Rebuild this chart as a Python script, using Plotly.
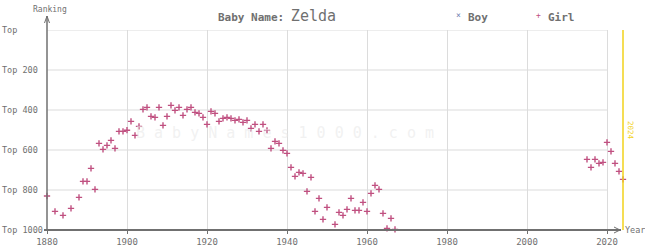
import plotly.graph_objects as go

# ---- data ----
girl_years = [1880, 1882, 1884, 1886, 1888, 1889, 1890, 1891, 1892, 1893, 1894, 1895,
              1896, 1897, 1898, 1899, 1900, 1901, 1902, 1903, 1904, 1905, 1906, 1907,
              1908, 1909, 1910, 1911, 1912, 1913, 1914, 1915, 1916, 1917, 1918, 1919,
              1920, 1921, 1922, 1923, 1924, 1925, 1926, 1927, 1928, 1929, 1930, 1931,
              1932, 1933, 1934, 1935, 1936, 1937, 1938, 1939, 1940, 1941, 1942, 1943,
              1944, 1945, 1946, 1947, 1948, 1949, 1950, 1952, 1953, 1954, 1955, 1956,
              1957, 1958, 1959, 1960, 1961, 1962, 1963, 1964, 1965, 1966, 1967,
              2015, 2016, 2017, 2018, 2019, 2020, 2021, 2022, 2023, 2024]
girl_ranks = [830, 907, 927, 892, 837, 757, 757, 692, 797, 567, 597, 577,
              552, 592, 507, 507, 501, 457, 527, 482, 397, 387, 432, 437,
              387, 477, 432, 377, 402, 387, 427, 397, 387, 412, 417, 437,
              472, 407, 417, 457, 442, 437, 442, 452, 447, 462, 452, 492,
              472, 507, 472, 502, 592, 557, 567, 602, 617, 687, 732, 712,
              717, 807, 737, 907, 842, 947, 887, 972, 912, 927, 897, 842,
              902, 902, 862, 907, 817, 777, 797, 917, 992, 942, 997,
              647, 687, 647, 667, 662, 562, 607, 667, 707, 747]
boy_years = []
boy_ranks = []

y_tick_vals = [0, 200, 400, 600, 800, 1000]
y_tick_text = ["Top", "Top 200", "Top 400", "Top 600", "Top 800", "Top 1000"]
x_tick_vals = [1880, 1900, 1920, 1940, 1960, 1980, 2000, 2020]
current_year = 2024

# ---- layout geometry (pixels) ----
W, H = 645, 250
L, T = 47, 30
PW, PH = 584, 200
X0, X1 = 1880, 2026


def px(xp):
    return (xp - L) / PW


def py(yp):
    return (T + PH - yp) / PH


FONT = "DejaVu Sans Mono"
GRAY = "#707070"
PINK = "#c05080"
BLUE = "#7080b0"
YELLOW = "#f2d21b"

fig = go.Figure()
fig.add_trace(go.Scatter(
    x=girl_years, y=girl_ranks, mode="markers", name="Girl",
    marker=dict(symbol="cross-thin", size=4.5, line=dict(color=PINK, width=1.4), color=PINK),
    cliponaxis=False, showlegend=False))
fig.add_trace(go.Scatter(
    x=boy_years, y=boy_ranks, mode="markers", name="Boy",
    marker=dict(symbol="x-thin", size=4.5, line=dict(color=BLUE, width=1.4), color=BLUE),
    cliponaxis=False, showlegend=False))

shapes = []
for v in y_tick_vals[:-1]:
    shapes.append(dict(type="line", xref="x", yref="y", x0=1880, x1=2020, y0=v, y1=v,
                       line=dict(color="#dcdcdc", width=1.2), layer="below"))
shapes.append(dict(type="line", xref="x", yref="y", x0=current_year, x1=current_year,
                   y0=0, y1=1000, line=dict(color=YELLOW, width=1.5)))
shapes.append(dict(type="line", xref="paper", yref="paper", x0=px(47), x1=px(47),
                   y0=py(231), y1=py(16), line=dict(color=GRAY, width=1.5)))
shapes.append(dict(type="path", xref="paper", yref="paper",
                   path=f"M {px(44.5)} {py(23)} L {px(47)} {py(16)} L {px(49.5)} {py(23)}",
                   line=dict(color=GRAY, width=1)))
shapes.append(dict(type="line", xref="paper", yref="paper", x0=px(44), x1=px(621),
                   y0=py(230), y1=py(230), line=dict(color=GRAY, width=2)))
shapes.append(dict(type="path", xref="paper", yref="paper",
                   path=f"M {px(614)} {py(227)} L {px(620)} {py(230)} L {px(614)} {py(233)}",
                   line=dict(color=GRAY, width=1)))

annotations = []
for v, t in zip(y_tick_vals, y_tick_text):
    annotations.append(dict(xref="paper", yref="y", x=px(0), y=v, text=t, showarrow=False,
                            xanchor="left", yanchor="middle",
                            font=dict(family=FONT, size=8.5, color=GRAY)))
annotations += [
    dict(xref="paper", yref="paper", x=px(31), y=py(9), text="Ranking", showarrow=False,
         xanchor="left", yanchor="middle", font=dict(family=FONT, size=8, color=GRAY)),
    dict(xref="paper", yref="paper", x=px(623), y=py(230), text="Year", showarrow=False,
         xanchor="left", yanchor="middle", font=dict(family=FONT, size=8.5, color=GRAY)),
    dict(xref="paper", yref="paper", x=px(216), y=py(16),
         text="<b>Baby Name:</b> <span style='font-size:15px'>Zelda</span>",
         showarrow=False, xanchor="left", yanchor="middle",
         font=dict(family=FONT, size=11, color=GRAY)),
    dict(xref="paper", yref="paper", x=px(458), y=py(15), text="×", showarrow=False,
         xanchor="center", yanchor="middle", font=dict(family=FONT, size=8, color=BLUE)),
    dict(xref="paper", yref="paper", x=px(466), y=py(17), text="<b>Boy</b>", showarrow=False,
         xanchor="left", yanchor="middle", font=dict(family=FONT, size=11, color=GRAY)),
    dict(xref="paper", yref="paper", x=px(538), y=py(15), text="+", showarrow=False,
         xanchor="center", yanchor="middle", font=dict(family=FONT, size=8, color=PINK)),
    dict(xref="paper", yref="paper", x=px(546), y=py(17), text="<b>Girl</b>", showarrow=False,
         xanchor="left", yanchor="middle", font=dict(family=FONT, size=11, color=GRAY)),
    dict(xref="paper", yref="paper", x=px(631), y=py(130), text=str(current_year),
         showarrow=False, textangle=90, xanchor="center", yanchor="middle",
         font=dict(family=FONT, size=7.5, color=YELLOW)),
    dict(xref="paper", yref="paper", x=px(285), y=py(133),
         text="B a b y N a m e s 1 0 0 0 . c o m", showarrow=False,
         xanchor="center", yanchor="middle",
         font=dict(family=FONT, size=15, color="rgba(232,232,232,0.6)")),
]

fig.update_layout(
    width=W, height=H, autosize=False,
    margin=dict(l=L, r=W - L - PW, t=T, b=H - T - PH, pad=0, autoexpand=False),
    paper_bgcolor="white", plot_bgcolor="white",
    showlegend=False,
    shapes=shapes, annotations=annotations,
    xaxis=dict(range=[X0, X1], tickvals=x_tick_vals, ticktext=[str(v) for v in x_tick_vals],
               showgrid=True, gridcolor="#dcdcdc", gridwidth=1.2, zeroline=False,
               showline=False, ticks="outside", ticklen=3, tickcolor=GRAY,
               tickfont=dict(family=FONT, size=9, color=GRAY), fixedrange=True),
    yaxis=dict(range=[1000, 0], tickvals=y_tick_vals, showticklabels=False,
               showgrid=False, zeroline=False, showline=False, ticks="", fixedrange=True),
)

fig.write_html("out.html", config={"responsive": False, "displayModeBar": False})
